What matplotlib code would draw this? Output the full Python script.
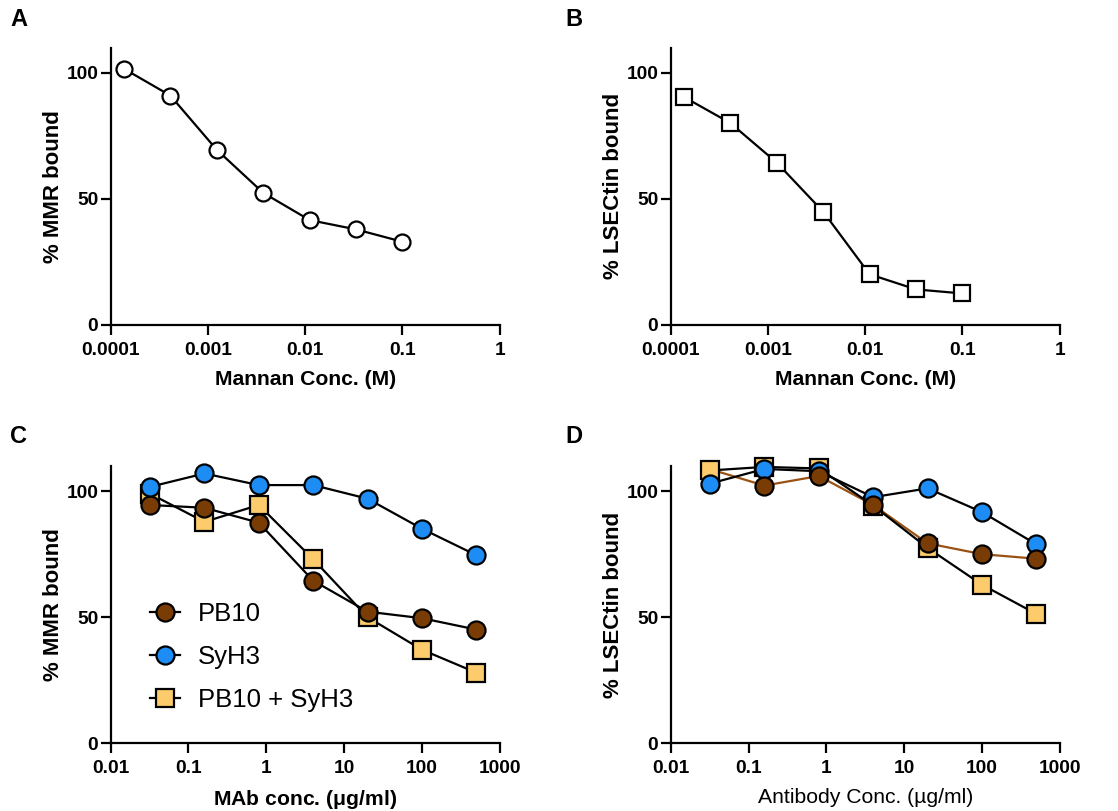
import numpy as np
import matplotlib
matplotlib.use("Agg")
from matplotlib import pyplot as plt

plt.rcParams['font.family'] = ['Liberation Sans', 'DejaVu Sans']

# panel A / B : mannan inhibition
mannan_conc = [0.000137, 0.00041, 0.00123, 0.0037, 0.0111, 0.0333, 0.1]
mmr_mannan = [101.6, 91.0, 69.5, 52.4, 41.6, 37.9, 33.0]
lsectin_mannan = [90.4, 80.1, 64.4, 44.9, 20.1, 14.1, 12.5]

# panel C / D : antibody inhibition
mab_conc = [0.032, 0.16, 0.8, 4, 20, 100, 500]
mmr_pb10 = [94.5, 93.4, 87.5, 64.5, 52.2, 49.6, 45.1]
mmr_syh3 = [101.7, 107.0, 102.4, 102.4, 97.0, 85.1, 74.6]
mmr_both = [99.0, 87.8, 94.5, 73.0, 50.0, 37.1, 28.0]
lsec_pb10 = [108.7, 102.2, 106.0, 94.5, 79.3, 75.0, 73.2]
lsec_syh3 = [103.0, 108.8, 107.9, 97.6, 101.1, 91.7, 78.9]
lsec_both = [108.2, 109.6, 109.0, 94.3, 77.5, 62.9, 51.3]

mannan_ticks = [0.0001, 0.001, 0.01, 0.1, 1]
mannan_labels = ['0.0001', '0.001', '0.01', '0.1', '1']
mab_ticks = [0.01, 0.1, 1, 10, 100, 1000]
mab_labels = ['0.01', '0.1', '1', '10', '100', '1000']

brown = '#7A3C05'
blue = '#1E8CF5'
yellow = '#FCCB6C'
brown_line = '#9A5214'

fig = plt.figure(figsize=(11.18, 8.11), dpi=100)
W = 0.348
H = 0.342
axA = fig.add_axes([0.099, 0.5993, W, H])
axB = fig.add_axes([0.5999, 0.5993, W, H])
axC = fig.add_axes([0.099, 0.0835, W, H])
axD = fig.add_axes([0.5999, 0.0835, W, H])


def style(ax, ticks, labels, xlabel, ylabel, xbold=True):
    ax.set_xscale('log')
    ax.set_xlim(ticks[0], ticks[-1])
    ax.set_ylim(0, 110)
    ax.set_xticks(ticks)
    ax.set_xticklabels(labels)
    ax.minorticks_off()
    ax.set_yticks([0, 50, 100])
    ax.set_yticklabels(['0', '50', '100'])
    for s in ['top', 'right']:
        ax.spines[s].set_visible(False)
    for s in ['left', 'bottom']:
        ax.spines[s].set_linewidth(1.6)
    ax.tick_params(direction='out', length=7, width=1.6, labelsize=13.8)
    ax.tick_params(axis='x', pad=5)
    ax.tick_params(axis='y', pad=2)
    for t in ax.get_xticklabels() + ax.get_yticklabels():
        t.set_fontweight('bold')
    ax.set_xlabel(xlabel, fontsize=15.2, fontweight='bold' if xbold else 'normal', labelpad=8)
    ax.set_ylabel(ylabel, fontsize=16, fontweight='bold', labelpad=2)


axA.plot(mannan_conc, mmr_mannan, color='black', lw=1.6, marker='o', ms=11.5,
         mfc='white', mec='black', mew=1.6, clip_on=False)
style(axA, mannan_ticks, mannan_labels, 'Mannan Conc. (M)', '% MMR bound')

axB.plot(mannan_conc, lsectin_mannan, color='black', lw=1.6, marker='s', ms=12,
         mfc='white', mec='black', mew=1.6, clip_on=False)
style(axB, mannan_ticks, mannan_labels, 'Mannan Conc. (M)', '% LSECtin bound')

kw = dict(lw=1.6, mec='black', mew=1.6, clip_on=False)
axC.plot(mab_conc, mmr_both, color='black', marker='s', ms=13, mfc=yellow, zorder=3, **kw)
axC.plot(mab_conc, mmr_pb10, color='black', marker='o', ms=13, mfc=brown, zorder=4, **kw)
axC.plot(mab_conc, mmr_syh3, color='black', marker='o', ms=13, mfc=blue, zorder=5, **kw)
style(axC, mab_ticks, mab_labels, 'MAb conc. ($\\mathregular{\\mu}$g/ml)', '% MMR bound')

# legend handles in the order of the reference
h1, = axC.plot([], [], color='black', marker='o', ms=13, mfc=brown, lw=1.6, mec='black', mew=1.6)
h2, = axC.plot([], [], color='black', marker='o', ms=13, mfc=blue, lw=1.6, mec='black', mew=1.6)
h3, = axC.plot([], [], color='black', marker='s', ms=13, mfc=yellow, lw=1.6, mec='black', mew=1.6)
axC.legend([h1, h2, h3], ['PB10', 'SyH3', 'PB10 + SyH3'], loc='lower left',
           bbox_to_anchor=(0.1, 0.112), frameon=False, fontsize=18.5,
           handlelength=1.17, handletextpad=0.7, labelspacing=0.75, borderaxespad=0,
           borderpad=0)

axD.plot(mab_conc, lsec_both, color='black', marker='s', ms=13, mfc=yellow, zorder=3, **kw)
axD.plot(mab_conc, lsec_syh3, color='black', marker='o', ms=13, mfc=blue, zorder=4, **kw)
axD.plot(mab_conc, lsec_pb10, color=brown_line, lw=1.6, zorder=2.5, clip_on=False)
axD.plot(mab_conc, lsec_pb10, color=brown_line, lw=0, marker='o', ms=13, mfc=brown,
         mec='black', mew=1.6, markevery=list(range(1, 7)), zorder=5, clip_on=False)
style(axD, mab_ticks, mab_labels, 'Antibody Conc. (µg/ml)', '% LSECtin bound', xbold=False)

for lab, x, y in [('A', 0.009, 0.962), ('B', 0.506, 0.962), ('C', 0.009, 0.448), ('D', 0.506, 0.448)]:
    fig.text(x, y, lab, fontsize=17, fontweight='bold', va='bottom')

fig.savefig('out.png', dpi=100)
